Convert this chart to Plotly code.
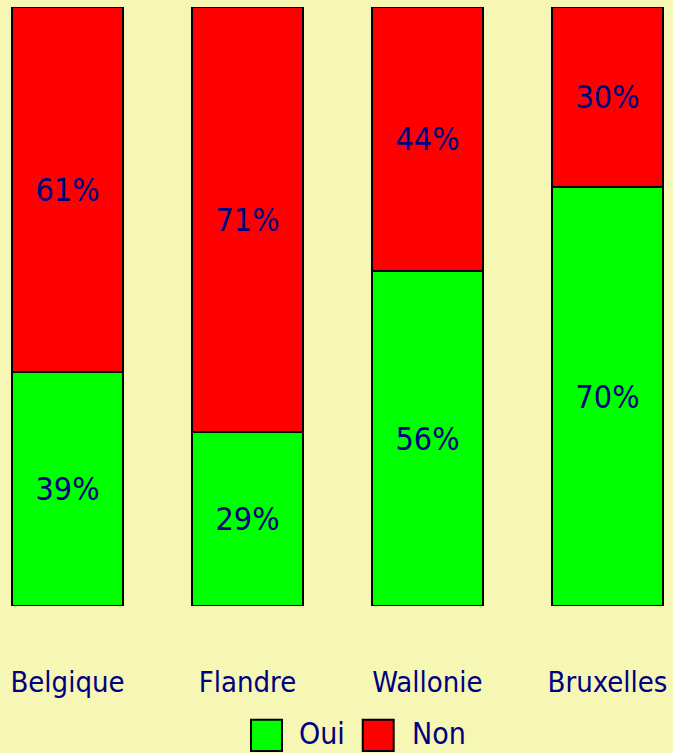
import plotly.graph_objects as go

regions = ["Belgique", "Flandre", "Wallonie", "Bruxelles"]
oui = [39, 29, 56, 70]
non = [61, 71, 44, 30]
series_names = ["Oui", "Non"]
series_colors = ["#00FF00", "#FF0000"]

FONT = "DejaVu Sans Condensed, Liberation Sans Narrow, Arial Narrow, sans-serif"
NAVY = "#000080"
BG = "#F6F7B4"

fig = go.Figure()
for name, vals, col in zip(series_names, [oui, non], series_colors):
    fig.add_trace(go.Bar(
        x=regions, y=vals, name=name,
        marker=dict(color=col, line=dict(color="black", width=2)),
        text=[f"{v}%" for v in vals], textposition="inside", insidetextanchor="middle",
        textfont=dict(color=NAVY, size=32, family=FONT), constraintext="none",
        width=0.617, showlegend=False,
    ))

# custom legend (large squares like the reference)
legend_sq_x = [(0.373, 0.419), (0.539, 0.585)]
legend_txt_x = [0.441, 0.609]
for (x0, x1), tx, name, col in zip(legend_sq_x, legend_txt_x, series_names, series_colors):
    fig.add_shape(type="rect", xref="paper", yref="paper", x0=x0, x1=x1,
                  y0=-0.242, y1=-0.190, fillcolor=col, line=dict(color="black", width=2))
    fig.add_annotation(xref="paper", yref="paper", x=tx, y=-0.213, xanchor="left",
                       yanchor="middle", text=name, showarrow=False,
                       font=dict(family=FONT, color=NAVY, size=30))

fig.update_layout(
    barmode="stack",
    width=673, height=753,
    margin=dict(l=0, r=0, t=7, b=147),
    paper_bgcolor=BG, plot_bgcolor=BG,
    font=dict(family=FONT, color=NAVY, size=29),
    showlegend=False,
    xaxis=dict(range=[-0.375, 3.364], showgrid=False, zeroline=False, showline=False,
               ticks="outside", ticklen=50, tickcolor="rgba(0,0,0,0)",
               tickfont=dict(family=FONT, color=NAVY, size=29)),
    yaxis=dict(range=[0, 100], visible=False),
    bargap=0,
)

fig.write_html("out.html", config={"displayModeBar": False},
               post_script="document.body.style.margin='0';document.body.style.overflow='hidden';")
